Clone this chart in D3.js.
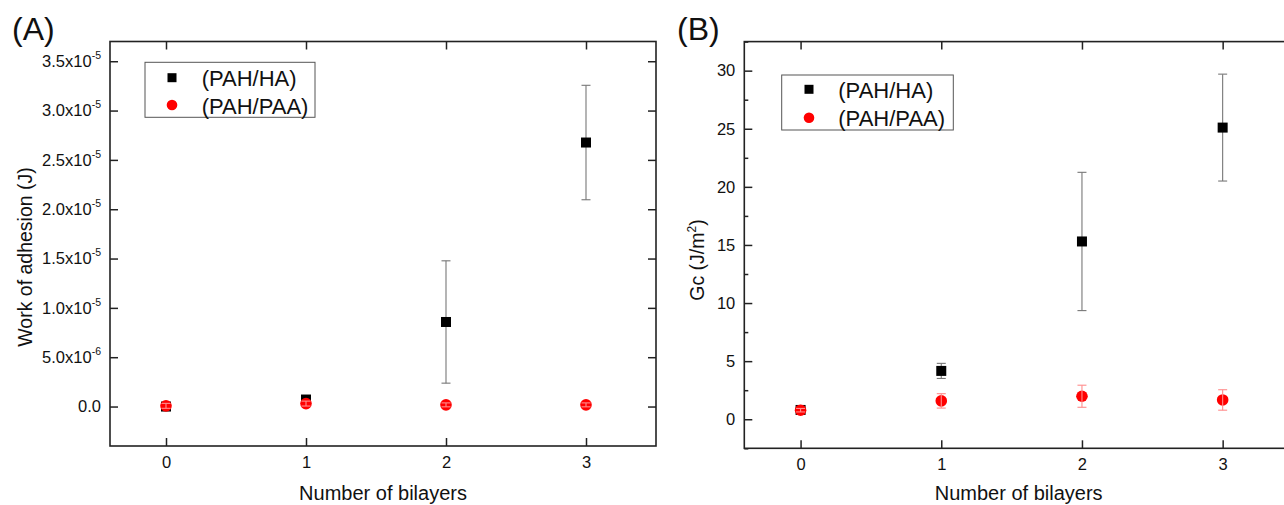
<!DOCTYPE html>
<html>
<head>
<meta charset="utf-8">
<script src="https://cdn.jsdelivr.net/npm/d3@7"></script>
<style>
  html, body { margin: 0; padding: 0; background: #fff; }
  svg { display: block; font-family: "Liberation Sans", Arial, sans-serif; }
</style>
</head>
<body>
<svg id="chart" width="1284" height="505"></svg>
<script>
// ---------- data ----------
const categories = [0, 1, 2, 3];
const seriesNames = ["(PAH/HA)", "(PAH/PAA)"];

// Panel A: work of adhesion (J)
const aHA      = [0.0, 7.1e-7, 8.57e-6, 2.676e-5];
const aHAErr   = [1.0e-7, 1.0e-7, 6.2e-6, 5.8e-6];
const aPAA     = [7e-8, 3.0e-7, 1.7e-7, 1.7e-7];
const aPAAErr  = [2.5e-7, 2.5e-7, 2.0e-7, 2.0e-7];
const aTickValues = [0, 5e-6, 1e-5, 1.5e-5, 2e-5, 2.5e-5, 3e-5, 3.5e-5];
const aTickMant   = ["0.0", "5.0", "1.0", "1.5", "2.0", "2.5", "3.0", "3.5"];
const aTickExp    = [null, "-6", "-5", "-5", "-5", "-5", "-5", "-5"];

// Panel B: Gc (J/m^2)
const bHA      = [0.8, 4.16, 15.3, 25.1];
const bHAErr   = [0.2, 0.65, 5.95, 4.6];
const bPAA     = [0.78, 1.58, 1.98, 1.66];
const bPAAErr  = [0.15, 0.62, 0.95, 0.88];
const bTickValues  = [0, 5, 10, 15, 20, 25, 30];
const bMinorTicks  = [-2.5, 2.5, 7.5, 12.5, 17.5, 22.5, 27.5, 32.5];

const svg = d3.select("#chart");
const FRAME = "#222";
const colHA = "#000000", colPAA = "#ff0000";
const errHA = "#777777", errPAA = "#ff8c8c";
const SQ = 10, CR = 5.8;

function panel(opt) {
  const g = svg.append("g");
  const x = d3.scaleLinear().domain([-0.4, 3.5]).range([opt.left, opt.right]);
  const y = d3.scaleLinear().domain(opt.yDomain).range([opt.bottom, opt.top]);

  const axB = g.append("g").attr("transform", `translate(0,${opt.bottom})`)
    .call(d3.axisBottom(x).tickValues(categories).tickSizeInner(-8).tickSizeOuter(0).tickPadding(11).tickFormat(d3.format("d")));
  g.append("g").attr("transform", `translate(0,${opt.top})`)
    .call(d3.axisTop(x).tickValues(categories).tickSizeInner(-8).tickSizeOuter(0).tickFormat(""));
  const axL = g.append("g").attr("transform", `translate(${opt.left},0)`)
    .call(d3.axisLeft(y).tickValues(opt.yTicks).tickSizeInner(-8).tickSizeOuter(0).tickPadding(9));
  g.append("g").attr("transform", `translate(${opt.right},0)`)
    .call(d3.axisRight(y).tickValues(opt.yTicks).tickSizeInner(-8).tickSizeOuter(0).tickFormat(""));
  if (opt.minor) {
    g.append("g").attr("transform", `translate(${opt.left},0)`)
      .call(d3.axisLeft(y).tickValues(opt.minor).tickSizeInner(-4).tickSizeOuter(0).tickFormat(""));
    g.append("g").attr("transform", `translate(${opt.right},0)`)
      .call(d3.axisRight(y).tickValues(opt.minor).tickSizeInner(-4).tickSizeOuter(0).tickFormat(""));
  }
  g.selectAll(".domain").remove();
  g.selectAll(".tick line").attr("stroke", FRAME).attr("stroke-width", 1.5);
  g.selectAll(".tick text").attr("fill", "#111").style("font-size", "16.5px")
    .style("font-family", '"Liberation Sans", Arial, sans-serif');
  axB.selectAll(".tick text").attr("dy", null).attr("y", 21.5);

  if (opt.tickLabel) {
    axL.selectAll(".tick text").each(function(d) {
      const t = d3.select(this);
      t.text(null);
      const k = opt.yTicks.indexOf(d);
      t.append("tspan").text(aTickMant[k] + (aTickExp[k] ? "x10" : ""));
      if (aTickExp[k]) {
        t.append("tspan").attr("dy", -8).style("font-size", "10.5px").text(aTickExp[k]);
      }
    });
  }

  g.append("rect")
    .attr("x", opt.left).attr("y", opt.top)
    .attr("width", opt.right - opt.left).attr("height", opt.bottom - opt.top)
    .attr("fill", "none").attr("stroke", FRAME).attr("stroke-width", 1.6);

  function drawErr(vals, errs, color) {
    const eg = g.append("g").attr("stroke", color).attr("stroke-width", 1.1).attr("fill", "none");
    categories.forEach((c, i) => {
      const cx = x(c), y1 = y(vals[i] + errs[i]), y2 = y(vals[i] - errs[i]);
      eg.append("line").attr("x1", cx).attr("x2", cx).attr("y1", y1).attr("y2", y2);
      eg.append("line").attr("x1", cx - 4.5).attr("x2", cx + 4.5).attr("y1", y1).attr("y2", y1);
      eg.append("line").attr("x1", cx - 4.5).attr("x2", cx + 4.5).attr("y1", y2).attr("y2", y2);
    });
  }
  drawErr(opt.ha, opt.haErr, errHA);
  g.append("g").selectAll("rect").data(categories).join("rect")
    .attr("x", (c) => x(c) - SQ / 2).attr("y", (c, i) => y(opt.ha[i]) - SQ / 2)
    .attr("width", SQ).attr("height", SQ).attr("fill", colHA);
  g.append("g").selectAll("circle").data(categories).join("circle")
    .attr("cx", (c) => x(c)).attr("cy", (c, i) => y(opt.paa[i]))
    .attr("r", CR).attr("fill", colPAA);
  drawErr(opt.paa, opt.paaErr, errPAA);

  const L = opt.legend;
  g.append("rect").attr("x", L.x).attr("y", L.y).attr("width", L.w).attr("height", L.h)
    .attr("fill", "#fff").attr("stroke", "#555").attr("stroke-width", 1);
  g.append("rect").attr("x", L.mx - 4.5).attr("y", L.r1 - 4.5).attr("width", 9).attr("height", 9).attr("fill", colHA);
  g.append("circle").attr("cx", L.mx).attr("cy", L.r2).attr("r", 5.3).attr("fill", colPAA);
  g.append("text").attr("x", L.tx).attr("y", L.r1 + 8.5).style("font-size", "22px").attr("fill", "#111").text(seriesNames[0]);
  g.append("text").attr("x", L.tx).attr("y", L.r2 + 8.5).style("font-size", "22px").attr("fill", "#111").text(seriesNames[1]);

  g.append("text").attr("x", (opt.left + opt.right) / 2).attr("y", 499.5)
    .attr("text-anchor", "middle").style("font-size", "20px").attr("fill", "#111").text("Number of bilayers");
  const yt = g.append("text").attr("transform", `translate(${opt.ytX},${opt.ytY}) rotate(-90)`)
    .attr("text-anchor", "middle").style("font-size", "19.5px").attr("fill", "#111");
  opt.yTitle(yt);
  g.append("text").attr("x", opt.lblX).attr("y", 40).style("font-size", "32px").attr("fill", "#111").text(opt.label);
}

panel({
  left: 110, right: 656, top: 41.5, bottom: 446,
  yDomain: [-4e-6, 3.7e-5], yTicks: aTickValues, tickLabel: true,
  ha: aHA, haErr: aHAErr, paa: aPAA, paaErr: aPAAErr,
  legend: { x: 145, y: 62.3, w: 170, h: 55, mx: 172, r1: 77.7, r2: 105, tx: 201.7 },
  ytX: 31.5, ytY: 257,
  yTitle: (t) => t.text("Work of adhesion (J)"),
  lblX: 12, label: "(A)"
});

panel({
  left: 744.3, right: 1293, top: 41.6, bottom: 448.3,
  yDomain: [-2.5, 32.5], yTicks: bTickValues, minor: bMinorTicks,
  ha: bHA, haErr: bHAErr, paa: bPAA, paaErr: bPAAErr,
  legend: { x: 781.7, y: 75, w: 171.6, h: 55, mx: 809, r1: 89.3, r2: 117.7, tx: 838.3 },
  ytX: 703.5, ytY: 260,
  yTitle: (t) => {
    t.append("tspan").text("Gc (J/m");
    t.append("tspan").attr("dy", -8).style("font-size", "12px").text("2");
    t.append("tspan").attr("dy", 8).text(")");
  },
  lblX: 677, label: "(B)"
});
</script>
</body>
</html>
